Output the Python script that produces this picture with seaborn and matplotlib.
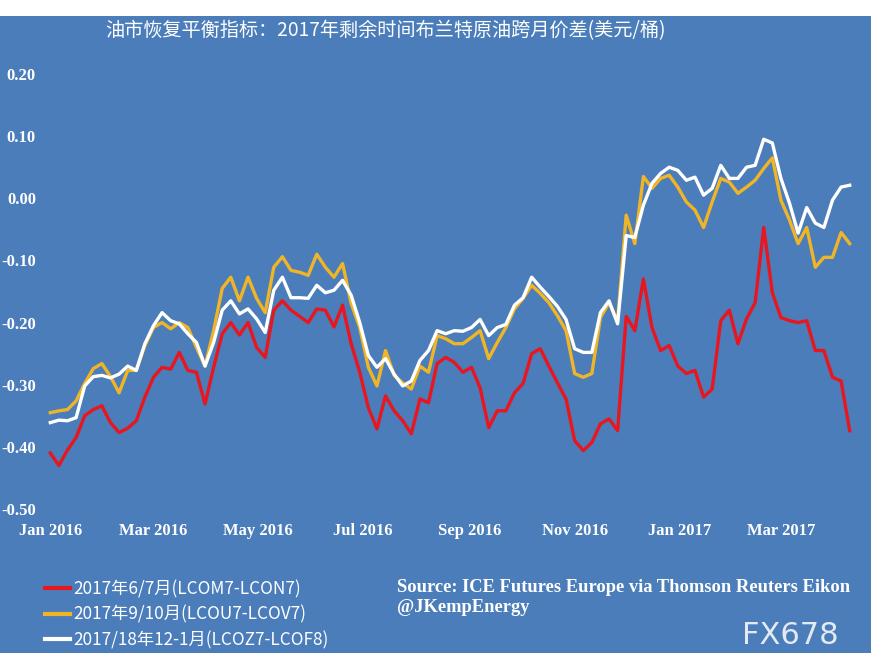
import numpy as np
import pandas as pd
import matplotlib
matplotlib.use("Agg")
import matplotlib.pyplot as plt
import matplotlib.dates as mdates
from matplotlib.lines import Line2D
from matplotlib.patches import Rectangle
import seaborn as sns

# ---------------- data ----------------
dates = pd.date_range("2016-01-01", periods=94, freq="5D")

red_jun_jul = [
    -0.41, -0.43, -0.405, -0.385, -0.35, -0.34, -0.334, -0.361, -0.377, -0.37,
    -0.358, -0.32, -0.288, -0.272, -0.275, -0.248, -0.277, -0.28, -0.331, -0.272,
    -0.218, -0.20, -0.22, -0.20, -0.24, -0.256, -0.18, -0.165, -0.18, -0.19,
    -0.20, -0.178, -0.18, -0.207, -0.172, -0.234, -0.28, -0.337, -0.371, -0.318,
    -0.342, -0.358, -0.379, -0.323, -0.329, -0.266, -0.256, -0.264, -0.28, -0.272,
    -0.305, -0.369, -0.342, -0.342, -0.313, -0.298, -0.25, -0.242, -0.27, -0.297,
    -0.323, -0.39, -0.406, -0.393, -0.363, -0.355, -0.374, -0.19, -0.213, -0.13,
    -0.208, -0.245, -0.237, -0.27, -0.282, -0.277, -0.32, -0.307, -0.197, -0.18,
    -0.234, -0.194, -0.168, -0.047, -0.152, -0.192, -0.197, -0.20, -0.197, -0.245,
    -0.245, -0.288, -0.294, -0.374,
]

yellow_sep_oct = [
    -0.345, -0.342, -0.34, -0.326, -0.298, -0.274, -0.266, -0.287, -0.313, -0.277,
    -0.277, -0.237, -0.208, -0.20, -0.21, -0.20, -0.208, -0.24, -0.27, -0.213,
    -0.145, -0.127, -0.165, -0.127, -0.161, -0.184, -0.111, -0.094, -0.116, -0.119,
    -0.124, -0.09, -0.111, -0.127, -0.105, -0.169, -0.208, -0.272, -0.302, -0.245,
    -0.285, -0.297, -0.307, -0.27, -0.28, -0.221, -0.226, -0.234, -0.234, -0.224,
    -0.213, -0.258, -0.232, -0.208, -0.178, -0.161, -0.14, -0.153, -0.168, -0.189,
    -0.213, -0.282, -0.288, -0.282, -0.192, -0.168, -0.197, -0.027, -0.073, 0.035,
    0.016, 0.032, 0.037, 0.018, -0.006, -0.019, -0.047, -0.006, 0.032, 0.026,
    0.008, 0.018, 0.029, 0.048, 0.065, -0.003, -0.035, -0.073, -0.047, -0.111,
    -0.095, -0.095, -0.055, -0.073,
]

white_dec_jan = [
    -0.361, -0.357, -0.358, -0.353, -0.302, -0.287, -0.285, -0.289, -0.283, -0.27,
    -0.277, -0.234, -0.205, -0.184, -0.197, -0.202, -0.218, -0.232, -0.27, -0.232,
    -0.18, -0.165, -0.186, -0.178, -0.194, -0.216, -0.148, -0.127, -0.16, -0.16,
    -0.161, -0.14, -0.152, -0.148, -0.132, -0.156, -0.20, -0.253, -0.272, -0.258,
    -0.283, -0.302, -0.294, -0.261, -0.245, -0.213, -0.218, -0.213, -0.214, -0.208,
    -0.195, -0.221, -0.208, -0.203, -0.172, -0.16, -0.127, -0.143, -0.158, -0.174,
    -0.195, -0.242, -0.248, -0.248, -0.184, -0.165, -0.202, -0.06, -0.063, -0.011,
    0.024, 0.04, 0.05, 0.045, 0.029, 0.034, 0.005, 0.016, 0.053, 0.032,
    0.032, 0.05, 0.053, 0.095, 0.089, 0.032, -0.008, -0.056, -0.015, -0.04,
    -0.047, -0.003, 0.018, 0.021,
]

series_labels = [
    "2017年6/7月(LCOM7-LCON7)",
    "2017年9/10月(LCOU7-LCOV7)",
    "2017/18年12-1月(LCOZ7-LCOF8)",
]
series_colors = ["#e8161f", "#f0b526", "#ffffff"]
y_ticks = [0.20, 0.10, 0.00, -0.10, -0.20, -0.30, -0.40, -0.50]
title = "油市恢复平衡指标：2017年剩余时间布兰特原油跨月价差(美元/桶)"
source_line1 = "Source: ICE Futures Europe via Thomson Reuters Eikon"
source_line2 = "@JKempEnergy"
watermark = "FX678"

# ---------------- frame ----------------
df = pd.DataFrame({
    "date": np.tile(dates, 3),
    "value": red_jun_jul + yellow_sep_oct + white_dec_jan,
    "series": np.repeat(series_labels, len(dates)),
})

BG = "#4a7dba"
W, H = 871, 671
fig = plt.figure(figsize=(W / 100, H / 100), dpi=100, facecolor=BG)
ax = fig.add_axes([40 / W, 1 - 509 / H, 820 / W, (509 - 74) / H])
ax.set_facecolor(BG)

sns.lineplot(data=df, x="date", y="value", hue="series",
             palette=dict(zip(series_labels, series_colors)),
             hue_order=series_labels, linewidth=2.4, legend=False, ax=ax)

ax.set_xlim(pd.Timestamp("2015-12-26"), pd.Timestamp("2017-04-16"))
ax.set_ylim(-0.5, 0.2)
ax.set_yticks(y_ticks)
ax.set_yticklabels([f"{v:.2f}" for v in y_ticks])
ax.xaxis.set_major_locator(mdates.MonthLocator(bymonth=[1, 3, 5, 7, 9, 11]))
ax.xaxis.set_major_formatter(mdates.DateFormatter("%b %Y"))
ax.set_xlabel("")
ax.set_ylabel("")
for s in ax.spines.values():
    s.set_visible(False)
ax.tick_params(axis="both", length=0, colors="white")
ax.tick_params(axis="y", pad=2.9)
ax.tick_params(axis="x", pad=10)
for lab in ax.get_xticklabels() + ax.get_yticklabels():
    lab.set_fontfamily("Liberation Serif")
    lab.set_fontweight("bold")
    lab.set_fontsize(12)
    lab.set_color("white")
ax.grid(False)

# white bands at top and bottom
fig.patches.append(Rectangle((0, 1 - 16 / H), 1, 16 / H, transform=fig.transFigure,
                             facecolor="white", edgecolor="none", zorder=0))
fig.patches.append(Rectangle((0, 0), 1, 18 / H, transform=fig.transFigure,
                             facecolor="white", edgecolor="none", zorder=0))

cjk = ["Noto Sans CJK SC", "DejaVu Sans"]
fig.text(385 / W, 1 - 31 / H, title, ha="center", va="center", color="white",
         fontsize=13.8, family=cjk)

handles = [Line2D([], [], color=c, linewidth=3) for c in series_colors]
leg = fig.legend(handles, series_labels, loc="upper left",
                 bbox_to_anchor=(45 / W, 1 - 580 / H), frameon=False,
                 borderpad=0, borderaxespad=0, handlelength=1.45,
                 handletextpad=0.2, labelspacing=0.42,
                 prop={"family": cjk, "size": 12.4})
for t in leg.get_texts():
    t.set_color("white")

fig.text(397 / W, 1 - 587 / H, source_line1, ha="left", va="center", color="white",
         fontsize=13.3, family="Liberation Serif", fontweight="bold")
fig.text(397 / W, 1 - 607 / H, source_line2, ha="left", va="center", color="white",
         fontsize=13.3, family="Liberation Serif", fontweight="bold")
fig.text(790 / W, 1 - 636 / H, watermark, ha="center", va="center", color="#e4eaf2",
         fontsize=22, family="DejaVu Sans")

fig.savefig("out.png", dpi=100, facecolor=BG)
